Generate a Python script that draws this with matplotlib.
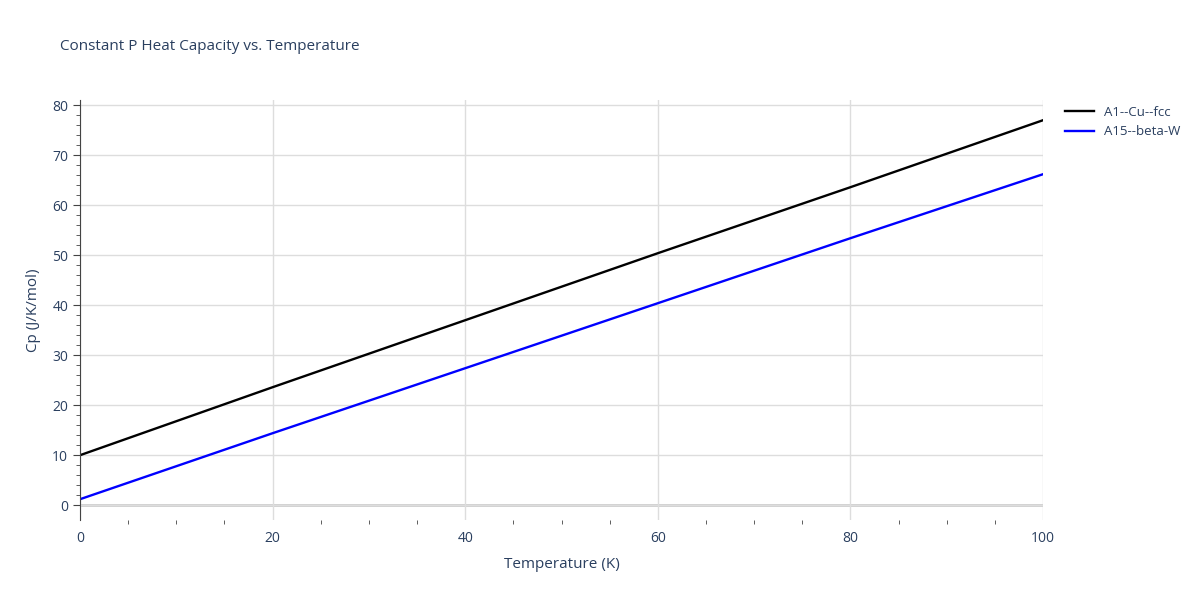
import numpy as np
import matplotlib.pyplot as plt

plt.rcParams['font.family'] = ['Open Sans', 'DejaVu Sans']

temp = [0, 20, 40, 60, 80, 100]
cp_cu = [10.0, 23.6, 37.0, 50.4, 63.6, 77.0]
cp_w = [1.2, 14.4, 27.4, 40.4, 53.4, 66.2]

txt = '#2a3f5f'
fig = plt.figure(figsize=(12, 6), dpi=100)
ax = fig.add_axes([0.0667, 0.133, 0.8025, 0.70])

ax.plot(temp, cp_cu, color='black', lw=1.7, label='A1--Cu--fcc')
ax.plot(temp, cp_w, color='blue', lw=1.7, label='A15--beta-W')

ax.set_xlim(0, 100)
ax.set_ylim(-3, 81)
ax.set_xticks(np.arange(0, 101, 20))
ax.set_yticks(np.arange(0, 81, 10))
ax.set_yticks(np.arange(0, 81, 2), minor=True)
ax.grid(which='major', color='#dddddd', lw=1)
ax.axhline(0, color='#cccccc', lw=2, zorder=1)
for s in ['top', 'right', 'bottom']:
    ax.spines[s].set_visible(False)
ax.spines['left'].set_color('#444444')
ax.tick_params(which='major', colors=txt, labelsize=10, length=5, color='#444444')
ax.tick_params(which='minor', length=3, color='#444444')
ax.tick_params(axis='x', which='both', length=0, pad=8)
ax.set_xticks(np.arange(0, 101, 5), minor=True)
ax.tick_params(axis='x', which='minor', length=3)

ax.set_xlabel('Temperature (K)', color=txt, fontsize=11, labelpad=8)
ax.set_ylabel('Cp (J/K/mol)', color=txt, fontsize=11, labelpad=8)
fig.text(0.05, 0.917, 'Constant P Heat Capacity vs. Temperature', color=txt, fontsize=11)
ax.legend(loc='upper left', bbox_to_anchor=(1.01, 1.015), frameon=False,
          labelcolor=txt, fontsize=9.5, handlelength=2.2)

fig.savefig('out.png')
